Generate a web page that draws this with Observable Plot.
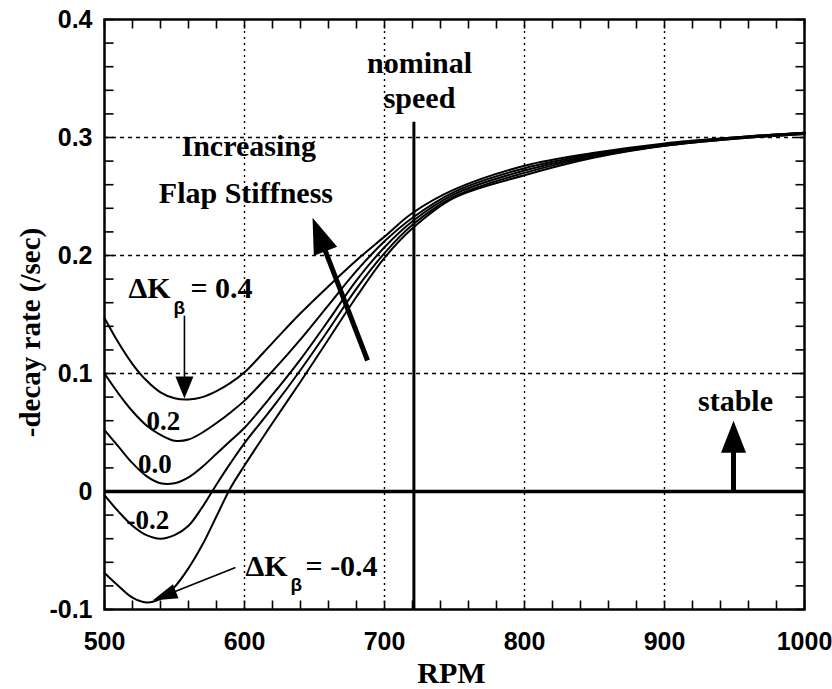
<!DOCTYPE html>
<html><head><meta charset="utf-8">
<script src="https://cdn.jsdelivr.net/npm/d3@7"></script>
<script src="https://cdn.jsdelivr.net/npm/@observablehq/plot@0.6"></script>
<style>html,body{margin:0;padding:0;background:#fff;overflow:hidden}</style>
</head><body><div id="chart"></div>
<script>
// ---- data ----
const rpm   = [500,510,520,530,540,550,560,570,580,590,600,620,640,660,680,700,720,750,800,850,900,950,1000];
const kP04  = [0.147,0.126,0.108,0.094,0.084,0.079,0.078,0.080,0.085,0.092,0.101,0.126,0.151,0.174,0.196,0.216,0.236,0.256,0.276,0.287,0.295,0.300,0.304];
const kP02  = [0.100,0.083,0.068,0.056,0.048,0.043,0.044,0.050,0.058,0.067,0.077,0.102,0.129,0.158,0.187,0.212,0.232,0.254,0.274,0.286,0.294,0.300,0.304];
const k00   = [0.052,0.038,0.024,0.013,0.007,0.007,0.012,0.021,0.032,0.043,0.054,0.082,0.112,0.145,0.179,0.207,0.229,0.252,0.272,0.285,0.294,0.300,0.304];
const kM02  = [-0.003,-0.017,-0.029,-0.037,-0.040,-0.037,-0.029,-0.013,0.006,0.024,0.041,0.071,0.103,0.137,0.172,0.202,0.226,0.250,0.270,0.284,0.293,0.299,0.303];
const kM04  = [-0.069,-0.080,-0.090,-0.094,-0.091,-0.081,-0.065,-0.045,-0.021,0.003,0.022,0.058,0.093,0.129,0.165,0.198,0.223,0.249,0.268,0.283,0.293,0.299,0.303];
const seriesNames = ["0.4","0.2","0.0","-0.2","-0.4"];
const seriesValues = [kP04,kP02,k00,kM02,kM04];

const xTicks = [500,600,700,800,900,1000];
const xTickLabels = ["500","600","700","800","900","1000"];
const yTicks = [-0.1,0,0.1,0.2,0.3,0.4];
const yTickLabels = ["-0.1","0","0.1","0.2","0.3","0.4"];
const xGrid = [600,700,800,900];
const yGrid = [0.1,0.2,0.3];
const xMinor = [500,520,540,560,580,600,620,640,660,680,700,720,740,760,780,800,820,840,860,880,900,920,940,960,980,1000];
const yMinor = [-0.1,-0.08,-0.06,-0.04,-0.02,0,0.02,0.04,0.06,0.08,0.1,0.12,0.14,0.16,0.18,0.2,0.22,0.24,0.26,0.28,0.3,0.32,0.34,0.36,0.38,0.4];

const nominalRPM = 721;
const nominalTop = 0.313;

// annotation text (data coordinates)
const serifBig = [
  {x: 725, y: 0.355, t: "nominal"},
  {x: 725, y: 0.3254, t: "speed"},
  {x: 603, y: 0.2847, t: "Increasing"},
  {x: 601, y: 0.2449, t: "Flap Stiffness"},
  {x: 950.7, y: 0.0686, t: "stable"}
];
const curveLabels = [
  {x: 542, y: 0.0517, t: "0.2"},
  {x: 536, y: 0.0153, t: "0.0"},
  {x: 531, y: -0.0314, t: "-0.2"}
];
const dkMain = [
  {x: 517.1, y: 0.1644, t: "ΔK"},
  {x: 561.4, y: 0.1644, t: "= 0.4"},
  {x: 600.7, y: -0.0712, t: "ΔK"},
  {x: 643.6, y: -0.0712, t: "= -0.4"}
];
const dkSub = [
  {x: 549.3, y: 0.1508, t: "β"},
  {x: 632.9, y: -0.0847, t: "β"}
];
// arrows: base (x1,y1) -> tip (x2,y2)
const arrows = [
  {x1: 687.9, y1: 0.111, x2: 648.6, y2: 0.232, w: 5, hw: 25, hl: 36},
  {x1: 949.3, y1: 0.0, x2: 949.3, y2: 0.060, w: 5, hw: 25, hl: 32},
  {x1: 557.1, y1: 0.149, x2: 557.1, y2: 0.0788, w: 1.6, hw: 18, hl: 22},
  {x1: 593.6, y1: -0.0644, x2: 534.3, y2: -0.0924, w: 1.6, hw: 15, hl: 25}
];

// ---- layout ----
const W = 832, H = 689;
const mL = 104, mR = 28, mT = 19, mB = 80;
const xDomain = [500, 1000], yDomain = [-0.1, 0.4];
const kx = (W - mL - mR) / (xDomain[1] - xDomain[0]);
const ky = (H - mT - mB) / (yDomain[1] - yDomain[0]);

const rows = seriesNames.flatMap((k, j) => rpm.map((r, i) => ({k, rpm: r, v: seriesValues[j][i]})));

const arrowGeom = arrows.map(a => {
  const dx = (a.x2 - a.x1) * kx, dy = -(a.y2 - a.y1) * ky;
  const L = Math.hypot(dx, dy);
  const t = (L - a.hl * 0.7) / L;
  return {...a, xe: a.x1 + (a.x2 - a.x1) * t, ye: a.y1 + (a.y2 - a.y1) * t,
          rot: Math.atan2(dx, -dy) * 180 / Math.PI};
});

const tickSym = {draw(ctx) { ctx.moveTo(0, 0); ctx.lineTo(0, -9); }};
const headSym = (w, l) => ({draw(ctx) { ctx.moveTo(0, 0); ctx.lineTo(-w / 2, l); ctx.lineTo(w / 2, l); ctx.closePath(); }});

const serif = "Liberation Serif, Times New Roman, serif";
const sans = "Liberation Sans, Arial, Helvetica, sans-serif";

const marks = [
  Plot.ruleX(xGrid, {stroke: "black", strokeWidth: 1.4, strokeDasharray: "2,4"}),
  Plot.ruleY(yGrid, {stroke: "black", strokeWidth: 1.4, strokeDasharray: "4,4"}),
  // inward ticks on all four sides
  Plot.dot(xMinor, {x: d => d, y: () => yDomain[0], symbol: tickSym, fill: "none", stroke: "black", strokeWidth: 1.6}),
  Plot.dot(xMinor, {x: d => d, y: () => yDomain[1], symbol: tickSym, rotate: 180, fill: "none", stroke: "black", strokeWidth: 1.6}),
  Plot.dot(yMinor, {y: d => d, x: () => xDomain[0], symbol: tickSym, rotate: 90, fill: "none", stroke: "black", strokeWidth: 1.6}),
  Plot.dot(yMinor, {y: d => d, x: () => xDomain[1], symbol: tickSym, rotate: -90, fill: "none", stroke: "black", strokeWidth: 1.6}),
  Plot.ruleY([0], {stroke: "black", strokeWidth: 3.5}),
  Plot.ruleX([nominalRPM], {y1: yDomain[0], y2: nominalTop, stroke: "black", strokeWidth: 3}),
  Plot.line(rows, {x: "rpm", y: "v", z: "k", curve: "catmull-rom", stroke: "black", strokeWidth: 2}),
  Plot.frame({stroke: "black", strokeWidth: 2.5}),
  // arrows
  ...arrowGeom.map(a => Plot.link([a], {x1: "x1", y1: "y1", x2: "xe", y2: "ye", stroke: "black", strokeWidth: a.w})),
  ...arrowGeom.map(a => Plot.dot([a], {x: "x2", y: "y2", symbol: headSym(a.hw, a.hl), rotate: a.rot, fill: "black", stroke: "none"})),
  // texts
  Plot.text(serifBig, {x: "x", y: "y", text: "t", textAnchor: "middle", lineAnchor: "bottom", fontFamily: serif, fontWeight: "bold", fontSize: 30, fill: "black"}),
  Plot.text(curveLabels, {x: "x", y: "y", text: "t", textAnchor: "middle", lineAnchor: "bottom", fontFamily: serif, fontWeight: "bold", fontSize: 27, fill: "black"}),
  Plot.text(dkMain, {x: "x", y: "y", text: "t", textAnchor: "start", lineAnchor: "bottom", fontFamily: serif, fontWeight: "bold", fontSize: 30, fill: "black"}),
  Plot.text(dkSub, {x: "x", y: "y", text: "t", textAnchor: "start", lineAnchor: "bottom", fontFamily: sans, fontSize: 19, fill: "black"}),
  // axis titles
  Plot.text(["RPM"], {frameAnchor: "bottom", dx: -3, dy: 73, lineAnchor: "bottom", fontFamily: serif, fontWeight: "bold", fontSize: 30, fill: "black"}),
  Plot.text(["-decay rate (/sec)"], {frameAnchor: "left", dx: -74, dy: 18, rotate: -90, textAnchor: "middle", lineAnchor: "middle", fontFamily: serif, fontWeight: "bold", fontSize: 29, fill: "black"})
];

const chart = Plot.plot({
  width: W, height: H,
  marginLeft: mL, marginRight: mR, marginTop: mT, marginBottom: mB,
  style: {fontFamily: sans, fontSize: "25px", fontWeight: "bold", background: "white", color: "black"},
  x: {domain: xDomain, ticks: xTicks, tickFormat: (d, i) => xTickLabels[xTicks.indexOf(d)], tickSize: 0, tickPadding: 23, label: null},
  y: {domain: yDomain, ticks: yTicks, tickFormat: d => yTickLabels[yTicks.findIndex(t => Math.abs(t - d) < 1e-9)], tickSize: 0, tickPadding: 12, label: null},
  marks
});
document.getElementById("chart").appendChild(chart);
</script>
</body></html>
